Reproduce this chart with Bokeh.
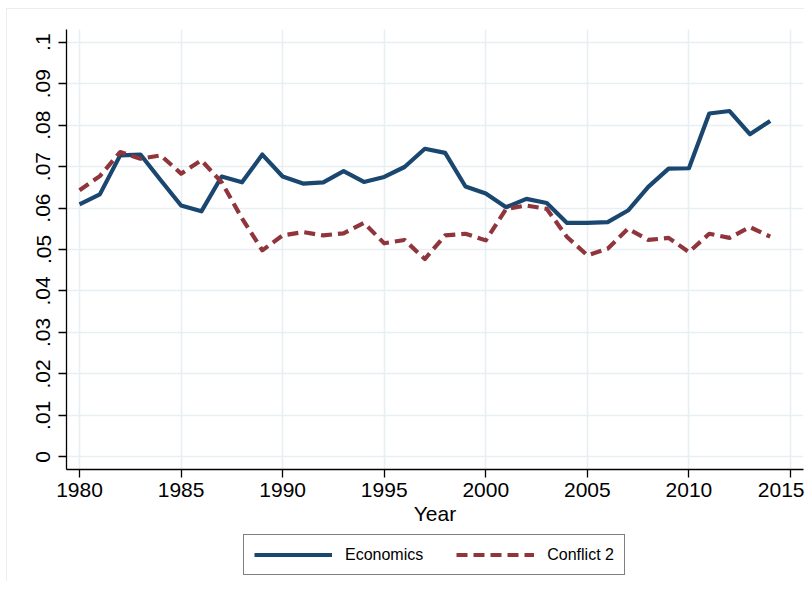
from bokeh.plotting import figure
from bokeh.models import Range1d, FixedTicker, Legend, LegendItem
from bokeh.layouts import column
from bokeh.embed import file_html
from bokeh.resources import INLINE

years = list(range(1980, 2015))
economics = [0.0609, 0.0633, 0.0727, 0.0729, 0.0667, 0.0606, 0.0592, 0.0676, 0.0662, 0.0729,
             0.0676, 0.0659, 0.0662, 0.0689, 0.0663, 0.0675, 0.0699, 0.0743, 0.0733, 0.0652,
             0.0635, 0.0602, 0.0622, 0.0612, 0.0564, 0.0564, 0.0566, 0.0594, 0.0651, 0.0695,
             0.0696, 0.0828, 0.0834, 0.0778, 0.0810]
conflict2 = [0.0643, 0.0677, 0.0735, 0.0719, 0.0727, 0.0683, 0.0715, 0.0662, 0.0575, 0.0498,
             0.0534, 0.0542, 0.0534, 0.0539, 0.0564, 0.0515, 0.0523, 0.0477, 0.0534, 0.0538,
             0.0522, 0.0598, 0.0606, 0.0598, 0.0530, 0.0486, 0.0502, 0.0550, 0.0523, 0.0528,
             0.0494, 0.0538, 0.0528, 0.0554, 0.0531]

x_ticks = [1980, 1985, 1990, 1995, 2000, 2005, 2010, 2015]
y_ticks = [0.0, 0.01, 0.02, 0.03, 0.04, 0.05, 0.06, 0.07, 0.08, 0.09, 0.1]
y_tick_labels = ["0", ".01", ".02", ".03", ".04", ".05", ".06", ".07", ".08", ".09", ".1"]
series_names = ["Economics", "Conflict 2"]

FONT = "Liberation Sans"
BLUE = "#1a476f"
RED = "#90353b"
GRID = "#e8eff2"
LW = 4.2
DASH = "11 6"
NAN = float("nan")

p = figure(frame_width=737, frame_height=440, output_backend="svg", toolbar_location=None,
           x_range=Range1d(1979.36, 2015.64), y_range=Range1d(-0.00306, 0.10306),
           min_border_left=59, min_border_top=20, min_border_right=1, min_border_bottom=63)
p.outline_line_color = None
p.background_fill_color = "white"
p.border_fill_color = "white"

p.line(years, economics, line_color=BLUE, line_width=LW, line_join="round")
p.line(years, conflict2, line_color=RED, line_width=LW, line_dash=DASH, line_join="round")

for ax in (p.xaxis[0], p.yaxis[0]):
    ax.axis_line_color = "black"
    ax.axis_line_width = 1.3
    ax.major_tick_line_color = "black"
    ax.major_tick_line_width = 1.3
    ax.major_tick_out = 8
    ax.major_tick_in = 0
    ax.minor_tick_line_color = None
    ax.major_label_text_font = FONT
    ax.major_label_text_font_size = "21px"
    ax.major_label_text_color = "black"

p.xaxis.ticker = FixedTicker(ticks=x_ticks)
p.xaxis.major_label_standoff = 5
p.xaxis.axis_label = "Year"
p.xaxis.axis_label_text_font = FONT
p.xaxis.axis_label_text_font_size = "21px"
p.xaxis.axis_label_text_font_style = "normal"
p.xaxis.axis_label_text_color = "black"
p.xaxis.axis_label_standoff = 2

p.yaxis.ticker = FixedTicker(ticks=y_ticks)
p.yaxis.major_label_overrides = {t: lab for t, lab in zip(y_ticks, y_tick_labels)}
p.yaxis.major_label_orientation = "vertical"
p.yaxis.major_label_standoff = 8

p.xgrid.ticker = FixedTicker(ticks=x_ticks)
p.ygrid.ticker = FixedTicker(ticks=y_ticks)
for g in (p.xgrid[0], p.ygrid[0]):
    g.grid_line_color = GRID
    g.grid_line_width = 1.6

# Legend strip below the graph (its frame lines up with the graph's frame)
q = figure(width=797, height=49, output_backend="svg", toolbar_location=None,
           x_range=Range1d(0, 1), y_range=Range1d(0, 1),
           x_axis_location=None, y_axis_location=None,
           min_border_left=0, min_border_right=0, min_border_top=0, min_border_bottom=0)
q.outline_line_color = None
q.grid.visible = False
q.background_fill_color = "white"
q.border_fill_color = "white"
k1 = q.line([NAN], [NAN], line_color=BLUE, line_width=LW)
k2 = q.line([NAN], [NAN], line_color=RED, line_width=LW, line_dash=DASH)

legend = Legend(items=[LegendItem(label=series_names[0], renderers=[k1]),
                       LegendItem(label=series_names[1], renderers=[k2])],
                orientation="horizontal", location=(177, 6),
                glyph_width=78, glyph_height=19, label_height=19,
                label_standoff=13, spacing=33, padding=10,
                label_text_font=FONT, label_text_font_size="16px",
                label_text_color="black",
                border_line_color="black", border_line_width=1.2,
                margin=0)
q.add_layout(legend, "center")

layout = column(p, q, spacing=0)
layout.styles = {"margin-left": "6px", "margin-top": "8px",
                 "border-left": "1px solid #e8eff2", "border-top": "1px solid #e8eff2"}

open("out.html", "w").write(file_html(layout, INLINE))
